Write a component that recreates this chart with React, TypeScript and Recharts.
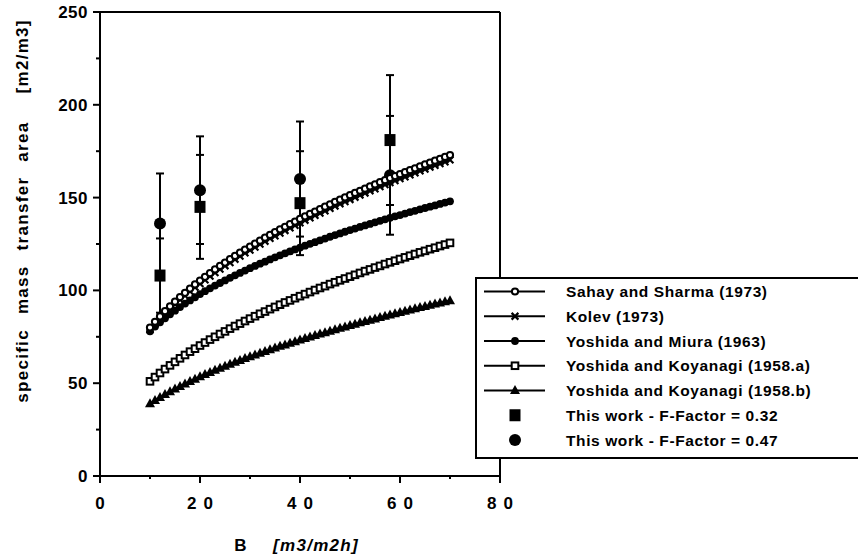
import React from 'react';
import {
  ComposedChart, Line, Scatter, ErrorBar, XAxis, YAxis, ReferenceLine, Legend,
} from 'recharts';

const FONT = '"Liberation Sans", Arial, sans-serif';

// liquid load B [m3/m2h] at which the correlations are plotted
const B_GRID = [
  10, 11, 12, 13, 14, 15, 16, 17, 18, 19, 20, 21, 22, 23, 24, 25, 26, 27, 28, 29,
  30, 31, 32, 33, 34, 35, 36, 37, 38, 39, 40, 41, 42, 43, 44, 45, 46, 47, 48, 49,
  50, 51, 52, 53, 54, 55, 56, 57, 58, 59, 60, 61, 62, 63, 64, 65, 66, 67, 68, 69, 70,
];

const SAHAY_SHARMA = [
  80.0, 83.1, 86.0, 88.8, 91.4, 93.9, 96.4, 98.7, 101.0, 103.2, 105.3, 107.3, 109.3, 111.3, 113.2, 115.0, 116.8, 118.6, 120.3, 122.0,
  123.6, 125.2, 126.8, 128.4, 129.9, 131.4, 132.9, 134.3, 135.7, 137.1, 138.5, 139.9, 141.2, 142.5, 143.8, 145.1, 146.4, 147.7, 148.9, 150.1,
  151.3, 152.5, 153.7, 154.8, 156.0, 157.1, 158.3, 159.4, 160.5, 161.6, 162.6, 163.7, 164.8, 165.8, 166.9, 167.9, 168.9, 169.9, 170.9, 171.9, 172.9,
];

const KOLEV = [
  78.8, 81.9, 84.7, 87.5, 90.0, 92.5, 95.0, 97.2, 99.5, 101.7, 103.7, 105.7, 107.7, 109.6, 111.5, 113.3, 115.0, 116.8, 118.5, 120.2,
  121.7, 123.3, 124.9, 126.5, 128.0, 129.4, 130.9, 132.3, 133.7, 135.0, 136.4, 137.8, 139.1, 140.4, 141.6, 142.9, 144.2, 145.5, 146.7, 147.8,
  149.0, 150.2, 151.4, 152.5, 153.7, 154.7, 155.9, 157.0, 158.1, 159.2, 160.2, 161.2, 162.3, 163.3, 164.4, 165.4, 166.4, 167.4, 168.3, 169.3, 170.3,
];

const YOSHIDA_MIURA = [
  78.0, 80.5, 82.8, 85.0, 87.1, 89.1, 91.0, 92.9, 94.6, 96.3, 98.0, 99.6, 101.1, 102.6, 104.0, 105.4, 106.8, 108.1, 109.4, 110.7,
  112.0, 113.2, 114.4, 115.5, 116.7, 117.8, 118.9, 120.0, 121.0, 122.1, 123.1, 124.1, 125.1, 126.0, 127.0, 127.9, 128.9, 129.8, 130.7, 131.6,
  132.5, 133.3, 134.2, 135.0, 135.8, 136.7, 137.5, 138.3, 139.1, 139.9, 140.6, 141.4, 142.2, 142.9, 143.7, 144.4, 145.1, 145.8, 146.6, 147.3, 148.0,
];

const KOYANAGI_A = [
  51.0, 53.3, 55.5, 57.6, 59.6, 61.5, 63.4, 65.2, 67.0, 68.6, 70.3, 71.9, 73.5, 75.0, 76.5, 77.9, 79.4, 80.8, 82.1, 83.5,
  84.8, 86.1, 87.4, 88.6, 89.9, 91.1, 92.3, 93.5, 94.6, 95.8, 96.9, 98.0, 99.1, 100.2, 101.3, 102.3, 103.4, 104.4, 105.4, 106.4,
  107.4, 108.4, 109.4, 110.4, 111.3, 112.3, 113.2, 114.2, 115.1, 116.0, 116.9, 117.8, 118.7, 119.6, 120.5, 121.3, 122.2, 123.0, 123.9, 124.7, 125.6,
];

const KOYANAGI_B = [
  39.0, 40.7, 42.4, 43.9, 45.5, 46.9, 48.3, 49.6, 51.0, 52.2, 53.5, 54.7, 55.8, 57.0, 58.1, 59.2, 60.2, 61.3, 62.3, 63.3,
  64.3, 65.3, 66.2, 67.1, 68.1, 69.0, 69.9, 70.7, 71.6, 72.4, 73.3, 74.1, 74.9, 75.7, 76.5, 77.3, 78.1, 78.9, 79.6, 80.4,
  81.1, 81.8, 82.6, 83.3, 84.0, 84.7, 85.4, 86.1, 86.8, 87.5, 88.1, 88.8, 89.5, 90.1, 90.8, 91.4, 92.0, 92.7, 93.3, 93.9, 94.5,
];

// measurements with their +/- error
const WORK_B = [12, 20, 40, 58];
const WORK_F032 = [108, 145, 147, 181];
const WORK_F032_ERR = [20, 28, 28, 35];
const WORK_F047 = [136, 154, 160, 162];
const WORK_F047_ERR = [27, 29, 31, 32];

const X_TICKS = [0, 10, 20, 30, 40, 50, 60, 70, 80];
const Y_TICKS = [0, 25, 50, 75, 100, 125, 150, 175, 200, 225, 250];

const LEGEND_LABELS = [
  'Sahay and Sharma (1973)',
  'Kolev (1973)',
  'Yoshida and Miura (1963)',
  'Yoshida and Koyanagi (1958.a)',
  'Yoshida and Koyanagi (1958.b)',
  'This work - F-Factor = 0.32',
  'This work - F-Factor = 0.47',
];

type MarkerKind = 'openCircle' | 'cross' | 'dot' | 'openSquare' | 'triangle' | 'square' | 'circle';

const LEGEND_MARKERS: MarkerKind[] = ['openCircle', 'cross', 'dot', 'openSquare', 'triangle', 'square', 'circle'];

const toRows = (values: number[]) => B_GRID.map((b, i) => ({ b, a: values[i] }));
const toPoints = (values: number[], errs: number[]) =>
  WORK_B.map((b, i) => ({ b, a: values[i], err: errs[i] }));

const Marker = ({ kind, cx, cy }: { kind: MarkerKind; cx: number; cy: number }) => {
  switch (kind) {
    case 'openCircle':
      return <circle cx={cx} cy={cy} r={3.1} fill="#fff" stroke="#000" strokeWidth={2} />;
    case 'cross': {
      const d = 3.4;
      return (
        <path
          d={`M${cx - d},${cy - d}L${cx + d},${cy + d}M${cx - d},${cy + d}L${cx + d},${cy - d}`}
          stroke="#000"
          strokeWidth={2.2}
        />
      );
    }
    case 'dot':
      return <circle cx={cx} cy={cy} r={3.9} fill="#000" />;
    case 'openSquare':
      return <rect x={cx - 3.3} y={cy - 3.3} width={6.6} height={6.6} fill="#fff" stroke="#000" strokeWidth={2} />;
    case 'triangle':
      return <path d={`M${cx},${cy - 5.4}L${cx + 5},${cy + 3.6}L${cx - 5},${cy + 3.6}Z`} fill="#000" />;
    case 'square':
      return <rect x={cx - 5.5} y={cy - 6} width={11} height={12} fill="#000" />;
    case 'circle':
      return <circle cx={cx} cy={cy} r={6} fill="#000" />;
    default:
      return null;
  }
};

const dotOf = (kind: MarkerKind) => (p: any) => (
  <Marker key={`${kind}-${p.index}`} kind={kind} cx={p.cx} cy={p.cy} />
);

const XTick = ({ x, y, payload }: any) => {
  const major = payload.value % 20 === 0;
  return (
    <g>
      <line x1={x} x2={x} y1={y} y2={y + (major ? 7 : 3)} stroke="#000" strokeWidth={2} />
      {major && (
        <text
          x={x}
          y={y + 33}
          dx={payload.value === 0 ? 0 : 3.5}
          textAnchor="middle"
          fontFamily={FONT}
          fontWeight="bold"
          fontSize={17}
          letterSpacing={payload.value === 0 ? 0 : 7}
          fill="#000"
        >
          {payload.value}
        </text>
      )}
    </g>
  );
};

const YTick = ({ x, y, payload }: any) => {
  const major = payload.value % 50 === 0;
  return (
    <g>
      <line x1={x - (major ? 7 : 4)} x2={x} y1={y} y2={y} stroke="#000" strokeWidth={2} />
      {major && (
        <text
          x={x - 12}
          y={y + 6}
          textAnchor="end"
          fontFamily={FONT}
          fontWeight="bold"
          fontSize={17}
          letterSpacing={0.5}
          fill="#000"
        >
          {payload.value}
        </text>
      )}
    </g>
  );
};

const XTitle = ({ viewBox }: any) => {
  const { x, y } = viewBox;
  return (
    <text y={y + 75} fontFamily={FONT} fontWeight="bold" fontSize={17} letterSpacing={1.3} fill="#000">
      <tspan x={x + 141} textAnchor="middle">B</tspan>
      <tspan x={x + 173} fontStyle="italic">[m3/m2h]</tspan>
    </text>
  );
};

const YTitle = ({ viewBox }: any) => {
  const { y, height } = viewBox;
  const cx = 22;
  const cy = y + height / 2 - 33;
  return (
    <text
      x={cx}
      y={cy}
      transform={`rotate(-90 ${cx} ${cy})`}
      textAnchor="middle"
      dominantBaseline="central"
      fontFamily={FONT}
      fontWeight="bold"
      fontSize={17}
      letterSpacing={1.3}
      wordSpacing={9}
      fill="#000"
    >
      specific mass transfer area
      <tspan dx={28}>[m2/m3]</tspan>
    </text>
  );
};

const LegendBox = () => (
  <svg width={383} height={182} style={{ display: 'block' }}>
    <rect x={1} y={1} width={420} height={180} fill="#fff" stroke="#000" strokeWidth={2} />
    {LEGEND_LABELS.map((label, i) => {
      const y = 14.5 + i * 24.75;
      return (
        <g key={label}>
          {i < 5 && <line x1={9} x2={70} y1={y} y2={y} stroke="#000" strokeWidth={2} />}
          <Marker kind={LEGEND_MARKERS[i]} cx={40} cy={y} />
          <text
            x={91}
            y={y + 5.5}
            fontFamily={FONT}
            fontWeight="bold"
            fontSize={15.5}
            letterSpacing={0.6}
            fill="#000"
          >
            {label}
          </text>
        </g>
      );
    })}
  </svg>
);

const curves: { values: number[]; kind: MarkerKind }[] = [
  { values: YOSHIDA_MIURA, kind: 'dot' },
  { values: KOYANAGI_A, kind: 'openSquare' },
  { values: KOYANAGI_B, kind: 'triangle' },
  { values: KOLEV, kind: 'cross' },
  { values: SAHAY_SHARMA, kind: 'openCircle' },
];

export default function App() {
  return (
    <div style={{ position: 'absolute', left: 0, top: 0, width: 858, height: 554, background: '#fff' }}>
      <ComposedChart
        width={858}
        height={554}
        margin={{ top: 12, right: 358, bottom: 38, left: 40 }}
      >
        <XAxis
          type="number"
          dataKey="b"
          domain={[0, 80]}
          ticks={X_TICKS}
          interval={0}
          tickSize={0}
          tickMargin={0}
          tickLine={false}
          tick={<XTick />}
          axisLine={{ stroke: '#000', strokeWidth: 2 }}
          height={40}
          allowDataOverflow
          label={{ content: <XTitle /> }}
        />
        <YAxis
          type="number"
          dataKey="a"
          domain={[0, 250]}
          ticks={Y_TICKS}
          interval={0}
          tickSize={0}
          tickMargin={0}
          tickLine={false}
          tick={<YTick />}
          axisLine={{ stroke: '#000', strokeWidth: 2 }}
          width={60}
          allowDataOverflow
          label={{ content: <YTitle /> }}
        />
        <ReferenceLine y={250} stroke="#000" strokeWidth={2} />
        <ReferenceLine x={80} stroke="#000" strokeWidth={2} />
        {curves.map(({ values, kind }) => (
          <Line
            key={kind}
            data={toRows(values)}
            dataKey="a"
            type="linear"
            stroke="#000"
            strokeWidth={2}
            dot={dotOf(kind)}
            activeDot={false}
            legendType="none"
            isAnimationActive={false}
          />
        ))}
        <Scatter
          data={toPoints(WORK_F032, WORK_F032_ERR)}
          dataKey="a"
          shape={(p: any) => <Marker kind="square" cx={p.cx} cy={p.cy} />}
          legendType="none"
          isAnimationActive={false}
        >
          <ErrorBar dataKey="err" direction="y" width={4} stroke="#000" strokeWidth={2} />
        </Scatter>
        <Scatter
          data={toPoints(WORK_F047, WORK_F047_ERR)}
          dataKey="a"
          shape={(p: any) => <Marker kind="circle" cx={p.cx} cy={p.cy} />}
          legendType="none"
          isAnimationActive={false}
        >
          <ErrorBar dataKey="err" direction="y" width={4} stroke="#000" strokeWidth={2} />
        </Scatter>
        <Legend
          layout="vertical"
          align="center"
          verticalAlign="middle"
          content={<LegendBox />}
          wrapperStyle={{ left: 475, top: 277, width: 383, height: 182 }}
        />
      </ComposedChart>
    </div>
  );
}
